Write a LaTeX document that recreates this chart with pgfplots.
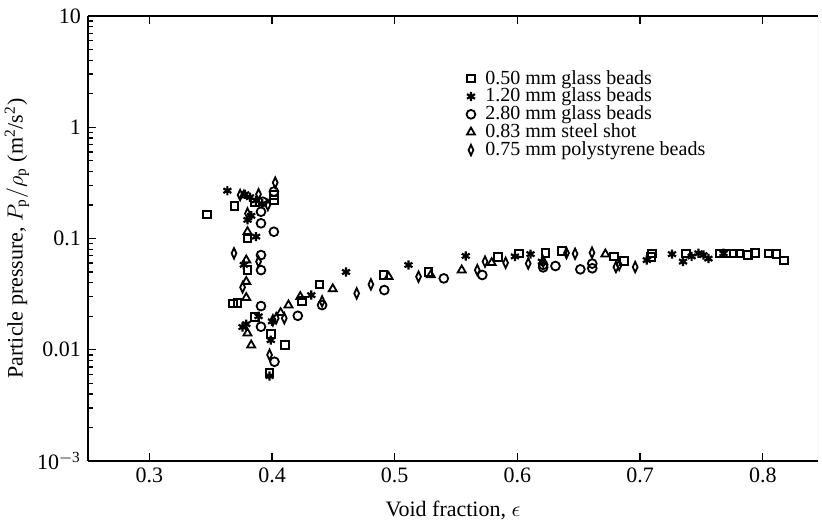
\documentclass[border=0pt]{standalone}
\usepackage{fontspec}
\setmainfont{Liberation Serif}
\usepackage{pgfplots}
\pgfplotsset{compat=1.18}

\begin{document}
\begin{tikzpicture}
\begin{axis}[
  scale only axis,
  width=365pt, height=222.5pt,
  ymode=log,
  xmin=0.25, xmax=0.845,
  ymin=0.001, ymax=10,
  axis x line*=box,
  axis y line*=left,
  xtick={0.3,0.4,0.5,0.6,0.7,0.8},
  xticklabels={0.3,0.4,0.5,0.6,0.7,0.8},
  ytick={0.001,0.01,0.1,1,10},
  yticklabels={10\textsuperscript{$-$3},0.01,0.1,1,10},
  tick align=inside,
  major tick length=4pt,
  minor tick length=2.6pt,
  every tick/.style={black, line width=0.7pt},
  axis line style={line width=0.9pt},
  tick label style={font=\fontsize{11}{12}\selectfont},
  label style={font=\fontsize{11}{13}\selectfont},
  xlabel={Void fraction, $\epsilon$},
  ylabel={Particle pressure, $P_\mathrm{p}/\rho_\mathrm{p}$ (m\textsuperscript{2}/s\textsuperscript{2})},
  xlabel style={yshift=-2pt},
  ylabel shift=-3pt,
  legend style={at={(0.505,0.895)}, anchor=north west, draw=none, fill=none,
    font=\fontsize{10}{10}\selectfont, row sep=-2.5pt,
    nodes={inner sep=1.5pt}},
  legend cell align=left,
  legend image code/.code={\draw plot coordinates {(0.12cm,0cm)};\path (0cm,0cm) (0.3cm,0cm);},
]
\coordinate (bl) at (rel axis cs:0,0);
\coordinate (tr) at (rel axis cs:1,1);
\draw[gray!55, line width=0.5pt] (rel axis cs:1,0) -- (rel axis cs:1,1);

% 0.50 mm glass beads
\addplot[only marks, mark=square, mark size=1.9pt, line width=1pt] coordinates {
 (0.347,0.165) (0.3695,0.196) (0.386,0.21) (0.4015,0.222) (0.4015,0.245)
 (0.380,0.100) (0.380,0.052) (0.368,0.026) (0.372,0.0262) (0.386,0.0198)
 (0.399,0.0139) (0.4107,0.0110) (0.398,0.0062) (0.4245,0.0276) (0.4386,0.0387)
 (0.4907,0.047) (0.5275,0.050) (0.5844,0.0678) (0.6012,0.0736) (0.6229,0.0745)
 (0.6364,0.077) (0.6785,0.069) (0.687,0.063) (0.7096,0.0736) (0.709,0.068)
 (0.7372,0.0736) (0.765,0.0736) (0.770,0.0736) (0.776,0.0736) (0.781,0.0736)
 (0.788,0.071) (0.7936,0.0745) (0.8045,0.0736) (0.8112,0.0724) (0.8175,0.0633)
};
\addlegendentry{0.50 mm glass beads}

% 1.20 mm glass beads
\addplot[only marks, mark=asterisk, mark size=2.3pt, line width=1.1pt] coordinates {
 (0.3636,0.269) (0.378,0.25) (0.382,0.235) (0.387,0.22) (0.392,0.205)
 (0.380,0.147) (0.383,0.160) (0.387,0.104) (0.377,0.058) (0.379,0.017)
 (0.376,0.016) (0.399,0.0122) (0.398,0.0058) (0.400,0.018) (0.389,0.020)
 (0.432,0.031) (0.4603,0.050) (0.5112,0.0578) (0.5579,0.0697) (0.598,0.069)
 (0.6107,0.0724) (0.620,0.062) (0.7055,0.064) (0.726,0.0724) (0.735,0.062)
 (0.742,0.069) (0.7476,0.0736) (0.7516,0.071) (0.7557,0.066) (0.768,0.0736)
};
\addlegendentry{1.20 mm glass beads}

% 2.80 mm glass beads
\addplot[only marks, mark=o, mark size=2.2pt, line width=0.9pt] coordinates {
 (0.4015,0.264) (0.3925,0.214) (0.391,0.174) (0.391,0.137) (0.4015,0.115)
 (0.391,0.071) (0.391,0.052) (0.391,0.0247) (0.391,0.0161) (0.402,0.0078)
 (0.421,0.0202) (0.4408,0.0252) (0.4915,0.0344) (0.540,0.0438) (0.5714,0.047)
 (0.621,0.055) (0.631,0.0566) (0.6513,0.0528) (0.661,0.0595) (0.661,0.054)
 (0.621,0.058)
};
\addlegendentry{2.80 mm glass beads}

% 0.83 mm steel shot
\addplot[only marks, mark=triangle, mark size=2.3pt, line width=0.9pt] coordinates {
 (0.377,0.245) (0.380,0.115) (0.379,0.064) (0.379,0.041) (0.379,0.0294)
 (0.380,0.0141) (0.383,0.0110) (0.407,0.0215) (0.4134,0.0252) (0.423,0.030)
 (0.4495,0.0352) (0.495,0.0454) (0.5294,0.047) (0.5546,0.052) (0.579,0.0605)
 (0.6717,0.0724)
};
\addlegendentry{0.83 mm steel shot}

% 0.75 mm polystyrene beads
\addplot[only marks, mark=diamond, mark size=2.6pt, line width=0.9pt,
  mark options={xscale=0.62}] coordinates {
 (0.374,0.246) (0.389,0.25) (0.4026,0.318) (0.3966,0.20) (0.380,0.168)
 (0.369,0.0736) (0.389,0.062) (0.376,0.0364) (0.4007,0.0184) (0.4034,0.0192)
 (0.410,0.0192) (0.398,0.0090) (0.4408,0.0272) (0.469,0.0321) (0.4806,0.0387)
 (0.5194,0.0454) (0.5673,0.052) (0.5736,0.062) (0.5904,0.0605) (0.6088,0.0596)
 (0.621,0.062) (0.640,0.074) (0.647,0.073) (0.6608,0.0745) (0.6803,0.0554)
 (0.683,0.058) (0.696,0.0554)
};
\addlegendentry{0.75 mm polystyrene beads}
\end{axis}
\pgfresetboundingbox
\path ([shift={(-44pt,-33pt)}]bl) rectangle ([shift={(2pt,8pt)}]tr);
\end{tikzpicture}
\end{document}
